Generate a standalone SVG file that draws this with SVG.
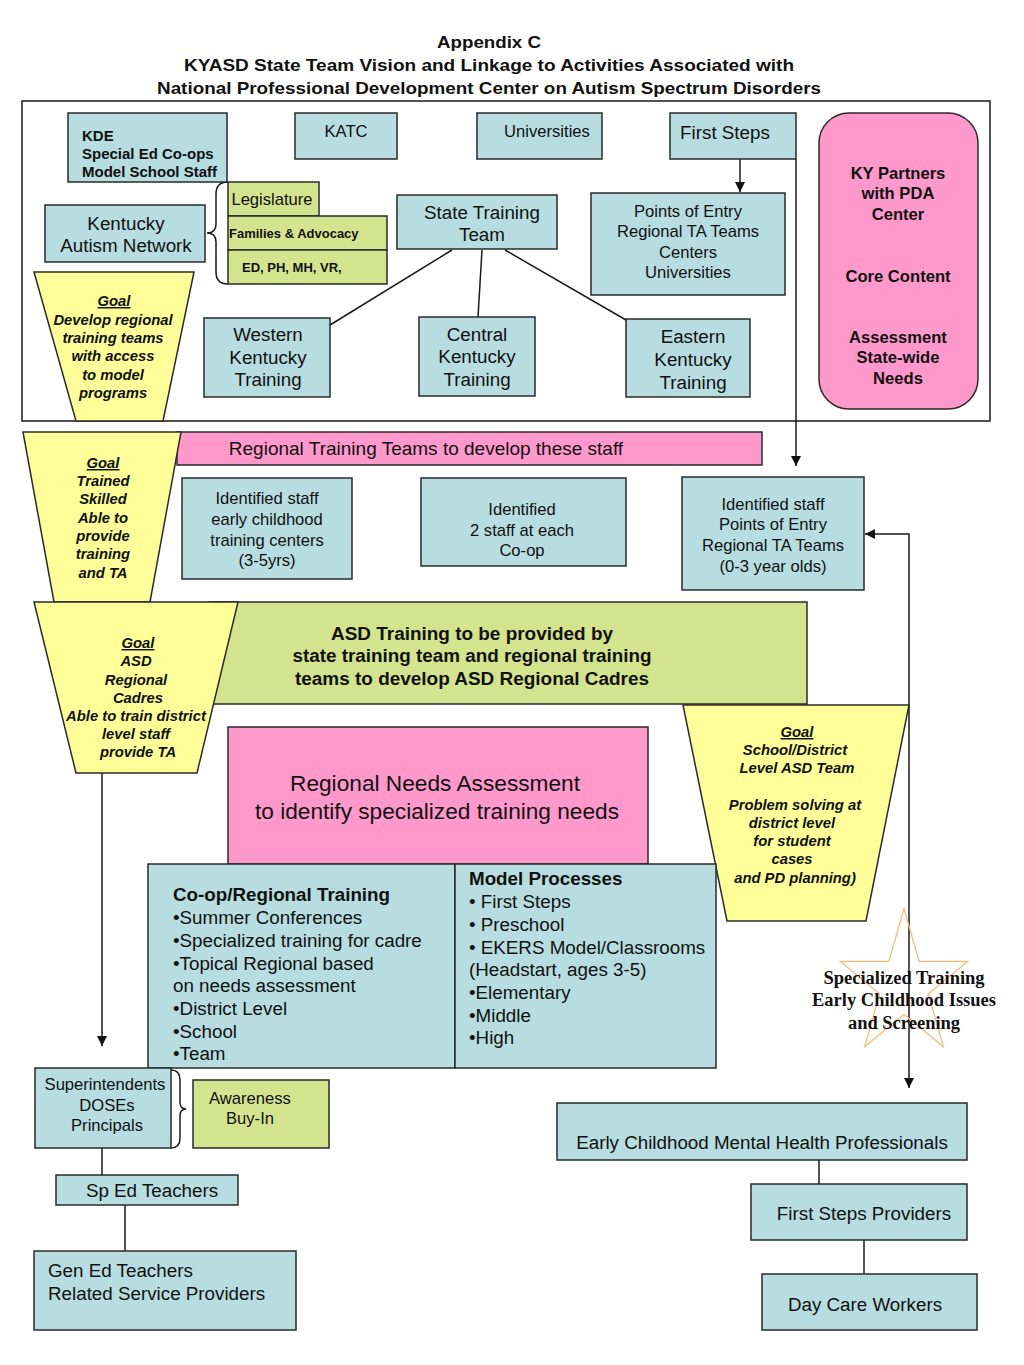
<svg xmlns="http://www.w3.org/2000/svg" width="1024" height="1365" viewBox="0 0 1024 1365">
<defs>
<style>
.b{fill:#B7DDE0;stroke:#2a2a2a;stroke-width:1.5}
.g{fill:#D4E38E;stroke:#2a2a2a;stroke-width:1.5}
.p{fill:#FF99CC;stroke:#2a2a2a;stroke-width:1.5}
.y{fill:#FFFF99;stroke:#2a2a2a;stroke-width:1.5}
.ln{fill:none;stroke:#1a1a1a;stroke-width:1.5}
text{font-family:"Liberation Sans",Arial,sans-serif;fill:#111}
.t18{font-size:18.8px;text-anchor:middle}
.t16{font-size:16.6px;text-anchor:middle}
.l18{font-size:18.8px}
.gi{font-size:14.8px;font-weight:bold;font-style:italic;text-anchor:middle}
.bd{font-weight:bold}
.ttl{font-size:17px;font-weight:bold;text-anchor:middle}
.star{font-family:"Liberation Serif","Times New Roman",serif;font-size:18.5px;font-weight:bold;text-anchor:middle}
</style>
<marker id="ah2" viewBox="0 0 10 10" refX="10" refY="5" markerWidth="10" markerHeight="10" markerUnits="userSpaceOnUse" orient="auto">
<path d="M0,0 L10,5 L0,10 z" fill="#111"/>
</marker>
</defs>
<rect width="1024" height="1365" fill="#fff"/>

<g id="title">
<text class="ttl" x="489" y="48" textLength="104" lengthAdjust="spacingAndGlyphs">Appendix C</text>
<text class="ttl" x="489" y="71" textLength="610" lengthAdjust="spacingAndGlyphs">KYASD State Team Vision and Linkage to Activities Associated with</text>
<text class="ttl" x="489" y="94" textLength="664" lengthAdjust="spacingAndGlyphs">National Professional Development Center on Autism Spectrum Disorders</text>
</g>

<g id="frame"><rect x="22" y="101" width="968" height="320" fill="none" stroke="#1a1a1a" stroke-width="1.5"/></g>

<g id="connectors">
<line class="ln" x1="740" y1="159" x2="740" y2="192" marker-end="url(#ah2)"/>
<polyline class="ln" points="796,159 796,466" marker-end="url(#ah2)"/>
<line class="ln" x1="452" y1="250" x2="330" y2="325"/>
<line class="ln" x1="482" y1="250" x2="478" y2="317"/>
<line class="ln" x1="505" y1="250" x2="626" y2="320"/>
<line class="ln" x1="102" y1="773" x2="102" y2="1046" marker-end="url(#ah2)"/>
<polyline class="ln" points="909,705 909,534 865,534" marker-end="url(#ah2)"/>
<line class="ln" x1="909" y1="705" x2="909" y2="1088" marker-end="url(#ah2)"/>
<line class="ln" x1="102" y1="1148" x2="102" y2="1175"/>
<line class="ln" x1="125" y1="1205" x2="125" y2="1251"/>
<line class="ln" x1="819" y1="1160" x2="819" y2="1184"/>
<line class="ln" x1="864" y1="1240" x2="864" y2="1274"/>
<path class="ln" d="M228,182 Q216,182 216,194 L216,224 Q216,233 207,233 Q216,233 216,242 L216,272 Q216,284 228,284"/>
<path class="ln" d="M171,1070 Q180,1070 180,1080 L180,1102 Q180,1109 186,1109 Q180,1109 180,1116 L180,1138 Q180,1148 171,1148"/>
</g>

<g id="kde"><rect class="b" x="68" y="113" width="159" height="69"/>
<text x="82" y="141" font-size="15" class="bd">KDE</text>
<text x="82" y="159" font-size="15" class="bd">Special Ed Co-ops</text>
<text x="82" y="177" font-size="15" class="bd">Model School Staff</text></g>

<g id="katc"><rect class="b" x="295" y="113" width="102" height="46"/>
<text class="t16" x="346" y="137">KATC</text></g>

<g id="universities"><rect class="b" x="477" y="113" width="125" height="46"/>
<text class="t16" x="547" y="137">Universities</text></g>

<g id="firststeps"><rect class="b" x="670" y="113" width="126" height="46"/>
<text class="t18" x="725" y="139">First Steps</text></g>

<g id="kypartners"><rect class="p" x="819" y="113" width="159" height="296" rx="30"/>
<text class="t16 bd" x="898" y="179">KY Partners</text>
<text class="t16 bd" x="898" y="199">with PDA</text>
<text class="t16 bd" x="898" y="220">Center</text>
<text class="t16 bd" x="898" y="282">Core Content</text>
<text class="t16 bd" x="898" y="343">Assessment</text>
<text class="t16 bd" x="898" y="363">State-wide</text>
<text class="t16 bd" x="898" y="384">Needs</text></g>

<g id="kan"><rect class="b" x="45" y="205" width="160" height="57"/>
<text class="t18" x="126" y="230">Kentucky</text>
<text class="t18" x="126" y="252">Autism Network</text></g>

<g id="legislature"><rect class="g" x="228" y="182" width="91" height="34"/>
<text class="t16" x="272" y="205">Legislature</text></g>
<g id="families"><rect class="g" x="228" y="216" width="159" height="34"/>
<text x="229" y="238" font-size="13" class="bd">Families &amp; Advocacy</text></g>
<g id="edph"><rect class="g" x="228" y="250" width="159" height="34"/>
<text x="242" y="272" font-size="13" class="bd">ED, PH, MH, VR,</text></g>

<g id="stt"><rect class="b" x="397" y="195" width="160" height="54"/>
<text class="t18" x="482" y="219">State Training</text>
<text class="t18" x="482" y="241">Team</text></g>

<g id="poe"><rect class="b" x="591" y="193" width="194" height="102"/>
<text class="t16" x="688" y="217">Points of Entry</text>
<text class="t16" x="688" y="237">Regional TA Teams</text>
<text class="t16" x="688" y="258">Centers</text>
<text class="t16" x="688" y="278">Universities</text></g>

<g id="goal1"><polygon class="y" points="34,272 194,272 163,421 76,421"/>
<text class="gi" x="114" y="306" text-decoration="underline">Goal</text>
<text class="gi" x="113" y="325">Develop regional</text>
<text class="gi" x="113" y="343">training teams</text>
<text class="gi" x="113" y="361">with access</text>
<text class="gi" x="113" y="380">to model</text>
<text class="gi" x="113" y="398">programs</text></g>

<g id="western"><rect class="b" x="204" y="318" width="126" height="79"/>
<text class="t18" x="268" y="341">Western</text>
<text class="t18" x="268" y="364">Kentucky</text>
<text class="t18" x="268" y="386">Training</text></g>

<g id="central"><rect class="b" x="419" y="317" width="116" height="79"/>
<text class="t18" x="477" y="341">Central</text>
<text class="t18" x="477" y="363">Kentucky</text>
<text class="t18" x="477" y="386">Training</text></g>

<g id="eastern"><rect class="b" x="626" y="319" width="124" height="78"/>
<text class="t18" x="693" y="343">Eastern</text>
<text class="t18" x="693" y="366">Kentucky</text>
<text class="t18" x="693" y="389">Training</text></g>

<g id="banner"><rect class="p" x="177" y="432" width="585" height="33"/>
<text x="426" y="455" font-size="19" text-anchor="middle">Regional Training Teams to develop these staff</text></g>

<g id="goal2"><polygon class="y" points="23,432 181,432 150,602 54,602"/>
<text class="gi" x="103" y="468" text-decoration="underline">Goal</text>
<text class="gi" x="103" y="486">Trained</text>
<text class="gi" x="103" y="504">Skilled</text>
<text class="gi" x="103" y="523">Able to</text>
<text class="gi" x="103" y="541">provide</text>
<text class="gi" x="103" y="559">training</text>
<text class="gi" x="103" y="578">and TA</text></g>

<g id="idstaff1"><rect class="b" x="182" y="478" width="170" height="101"/>
<text class="t16" x="267" y="504">Identified staff</text>
<text class="t16" x="267" y="525">early childhood</text>
<text class="t16" x="267" y="546">training centers</text>
<text class="t16" x="267" y="566">(3-5yrs)</text></g>

<g id="idstaff2"><rect class="b" x="421" y="478" width="205" height="88"/>
<text class="t16" x="522" y="515">Identified</text>
<text class="t16" x="522" y="536">2 staff at each</text>
<text class="t16" x="522" y="556">Co-op</text></g>

<g id="idstaff3"><rect class="b" x="682" y="477" width="182" height="113"/>
<text class="t16" x="773" y="510">Identified staff</text>
<text class="t16" x="773" y="530">Points of Entry</text>
<text class="t16" x="773" y="551">Regional TA Teams</text>
<text class="t16" x="773" y="572">(0-3 year olds)</text></g>

<g id="asdtraining"><rect class="g" x="210" y="602" width="597" height="102"/>
<text class="t18 bd" x="472" y="640" textLength="282" lengthAdjust="spacingAndGlyphs">ASD Training to be provided by</text>
<text class="t18 bd" x="472" y="662" textLength="359" lengthAdjust="spacingAndGlyphs">state training team and regional training</text>
<text class="t18 bd" x="472" y="685" textLength="354" lengthAdjust="spacingAndGlyphs">teams to develop ASD Regional Cadres</text></g>

<g id="goal3"><polygon class="y" points="34,602 238,602 197,773 76,773"/>
<text class="gi" x="138" y="648" text-decoration="underline">Goal</text>
<text class="gi" x="136" y="666">ASD</text>
<text class="gi" x="136" y="685">Regional</text>
<text class="gi" x="138" y="703">Cadres</text>
<text class="gi" x="136" y="721">Able to train district</text>
<text class="gi" x="136" y="739">level staff</text>
<text class="gi" x="138" y="757">provide TA</text></g>

<g id="rna"><rect class="p" x="228" y="727" width="420" height="137"/>
<text x="435" y="791" font-size="22" text-anchor="middle" textLength="290" lengthAdjust="spacingAndGlyphs">Regional Needs Assessment</text>
<text x="437" y="819" font-size="22" text-anchor="middle" textLength="364" lengthAdjust="spacingAndGlyphs">to identify specialized training needs</text></g>

<g id="goal4"><polygon class="y" points="683,705 909,705 866,921 727,921"/>
<text class="gi" x="797" y="737" text-decoration="underline">Goal</text>
<text class="gi" x="795" y="755">School/District</text>
<text class="gi" x="797" y="773">Level ASD Team</text>
<text class="gi" x="795" y="810">Problem solving at</text>
<text class="gi" x="792" y="828">district level</text>
<text class="gi" x="792" y="846">for student</text>
<text class="gi" x="792" y="864">cases</text>
<text class="gi" x="795" y="883">and PD planning)</text></g>

<g id="coop"><rect class="b" x="148" y="864" width="307" height="204"/>
<text class="l18 bd" x="173" y="901">Co-op/Regional Training</text>
<text class="l18" x="173" y="924">•Summer Conferences</text>
<text class="l18" x="173" y="947">•Specialized training for cadre</text>
<text class="l18" x="173" y="970">•Topical Regional based</text>
<text class="l18" x="173" y="992">on needs assessment</text>
<text class="l18" x="173" y="1015">•District Level</text>
<text class="l18" x="173" y="1038">•School</text>
<text class="l18" x="173" y="1060">•Team</text></g>

<g id="model"><rect class="b" x="455" y="864" width="261" height="204"/>
<text class="l18 bd" x="469" y="885">Model Processes</text>
<text class="l18" x="469" y="908">• First Steps</text>
<text class="l18" x="469" y="931">• Preschool</text>
<text class="l18" x="469" y="954">• EKERS Model/Classrooms</text>
<text class="l18" x="469" y="976">(Headstart, ages 3-5)</text>
<text class="l18" x="469" y="999">•Elementary</text>
<text class="l18" x="469" y="1022">•Middle</text>
<text class="l18" x="469" y="1044">•High</text></g>

<g id="startext">
<polygon points="904,908.6 919.1,961.4 967.7,961.4 928.3,994 943.4,1046.8 904,1014.2 864.6,1046.8 879.7,994 840.3,961.4 888.9,961.4" fill="none" stroke="#F5B878" stroke-width="1.2"/>
<text class="star" x="904" y="984">Specialized Training</text>
<text class="star" x="904" y="1006">Early Childhood Issues</text>
<text class="star" x="904" y="1029">and Screening</text></g>

<g id="supers"><rect class="b" x="35" y="1068" width="136" height="80"/>
<text class="t16" x="105" y="1090">Superintendents</text>
<text class="t16" x="107" y="1111">DOSEs</text>
<text class="t16" x="107" y="1131">Principals</text></g>

<g id="awareness"><rect class="g" x="193" y="1080" width="136" height="68"/>
<text class="t16" x="250" y="1104">Awareness</text>
<text class="t16" x="250" y="1124">Buy-In</text></g>

<g id="sped"><rect class="b" x="56" y="1175" width="182" height="30"/>
<text class="t18" x="152" y="1197">Sp Ed Teachers</text></g>

<g id="gened"><rect class="b" x="34" y="1251" width="262" height="79"/>
<text class="l18" x="48" y="1277">Gen Ed Teachers</text>
<text class="l18" x="48" y="1300">Related Service Providers</text></g>

<g id="ecmh"><rect class="b" x="557" y="1103" width="410" height="57"/>
<text class="t18" x="762" y="1149">Early Childhood Mental Health Professionals</text></g>

<g id="fsp"><rect class="b" x="751" y="1184" width="216" height="56"/>
<text class="t18" x="864" y="1220">First Steps Providers</text></g>

<g id="daycare"><rect class="b" x="762" y="1274" width="215" height="56"/>
<text class="t18" x="865" y="1311">Day Care Workers</text></g>
</svg>
